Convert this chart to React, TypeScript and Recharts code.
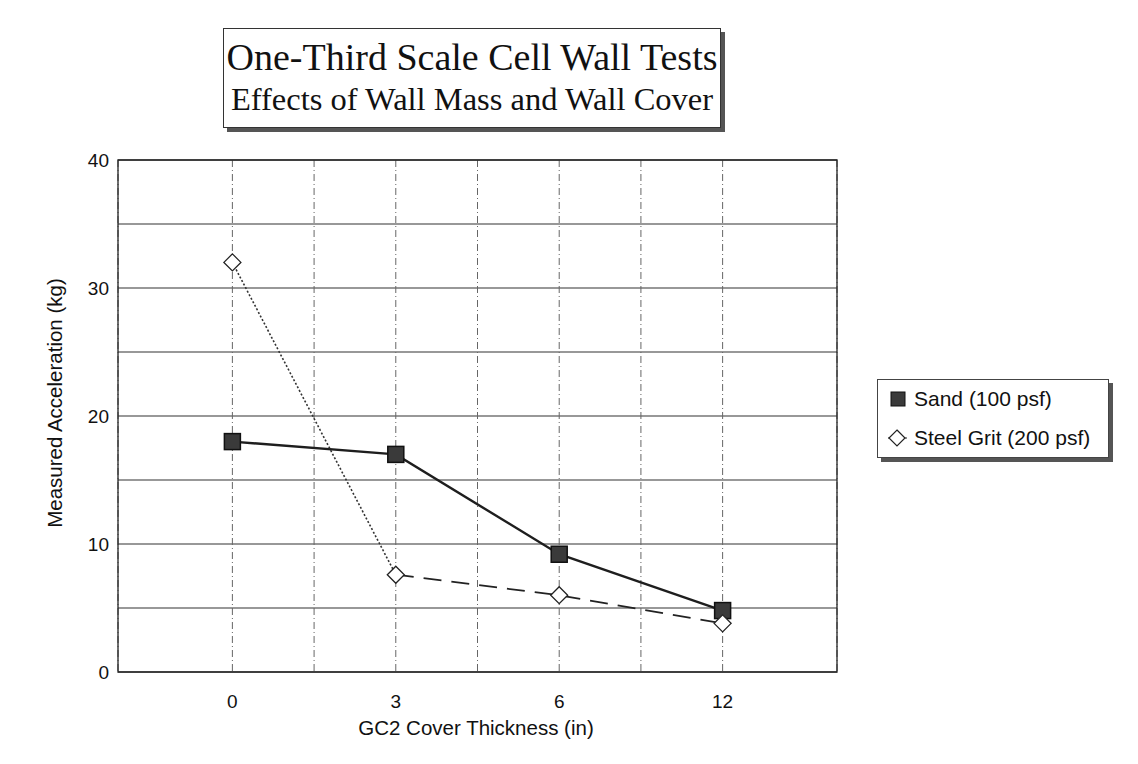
import { LineChart, Line, XAxis, YAxis, CartesianGrid, Legend, ReferenceArea } from 'recharts';

const coverThickness = ['0', '3', '6', '12'];
const sandAccel = [18.0, 17.0, 9.2, 4.8];
const steelGritAccel = [32.0, 7.6, 6.0, 3.8];
const yTicks = [0, 5, 10, 15, 20, 25, 30, 35, 40];
const xTicks = [0, 0.5, 1, 1.5, 2, 2.5, 3];

// steel grit is drawn dotted for the first segment and dashed afterwards
const data = coverThickness.map((c, i) => ({
  idx: i,
  cover: c,
  sand: sandAccel[i],
  steel: steelGritAccel[i],
  steelDotted: i <= 1 ? steelGritAccel[i] : null,
  steelDashed: i >= 1 ? steelGritAccel[i] : null,
}));

const SANS = '"Liberation Sans", Arial, sans-serif';
const SERIF = '"Liberation Serif", "Times New Roman", serif';

function SquareDot(props: any) {
  const { cx, cy, index } = props;
  if (cx == null || cy == null) return null;
  return (
    <rect key={`sq-${index}`} x={cx - 8} y={cy - 8} width={16} height={16} fill="#3a3a3a" stroke="#111" strokeWidth={1.5} />
  );
}

function DiamondDot(props: any) {
  const { cx, cy, index } = props;
  if (cx == null || cy == null) return null;
  const r = 8.5;
  return (
    <polygon
      key={`dm-${index}`}
      points={`${cx},${cy - r} ${cx + r},${cy} ${cx},${cy + r} ${cx - r},${cy}`}
      fill="#fff"
      stroke="#222"
      strokeWidth={1.3}
    />
  );
}

function LegendBox() {
  const row = { display: 'flex', alignItems: 'center', height: 44 } as const;
  return (
    <div
      style={{
        border: '1px solid #444',
        background: '#fff',
        boxShadow: '4px 4px 0 #555',
        padding: '0 6px 0 8px',
        fontFamily: SANS,
        fontSize: 21,
        color: '#111',
        width: 232,
        height: 79,
        boxSizing: 'border-box',
        display: 'flex',
        flexDirection: 'column',
        justifyContent: 'center',
      }}
    >
      <div style={row}>
        <svg width={22} height={22}>
          <rect x={5} y={4} width={14} height={14} fill="#3a3a3a" stroke="#111" />
        </svg>
        <span style={{ marginLeft: 6 }}>Sand (100 psf)</span>
      </div>
      <div style={row}>
        <svg width={22} height={22}>
          <line x1={2} y1={11} x2={21} y2={11} stroke="#222" strokeWidth={1} />
          <polygon points="11,3 19,11 11,19 3,11" fill="#fff" stroke="#222" strokeWidth={1.2} />
        </svg>
        <span style={{ marginLeft: 6 }}>Steel Grit (200 psf)</span>
      </div>
    </div>
  );
}

export default function App() {
  return (
    <div style={{ position: 'relative', width: 1138, height: 764, margin: -8, background: '#fff', overflow: 'hidden' }}>
      <div style={{ position: 'absolute', left: 7, top: 5, right: 0, bottom: 0, borderLeft: '1px solid #555', borderTop: '1px solid #777' }} />
      <div
        style={{
          position: 'absolute',
          left: 223,
          top: 28,
          width: 498,
          height: 100,
          border: '1px solid #333',
          boxShadow: '4px 4px 0 #555',
          background: '#fff',
          fontFamily: SERIF,
          color: '#111',
          textAlign: 'center',
          boxSizing: 'border-box',
          whiteSpace: 'nowrap',
        }}
      >
        <div style={{ fontSize: 38, lineHeight: '44px', marginTop: 6 }}>One-Third Scale Cell Wall Tests</div>
        <div style={{ fontSize: 32.5, lineHeight: '40px' }}>Effects of Wall Mass and Wall Cover</div>
      </div>

      <LineChart width={1138} height={764} data={data} margin={{ top: 160, right: 301, bottom: 52, left: 58 }}>
        <CartesianGrid vertical={false} stroke="#333" strokeWidth={1.2} />
        <CartesianGrid horizontal={false} stroke="#666" strokeDasharray="7 3 1 3" />
        <ReferenceArea x1={-0.7} x2={3.7} y1={0} y2={40} fill="none" stroke="#222" strokeWidth={1.3} ifOverflow="extendDomain" />
        <XAxis
          dataKey="idx"
          type="number"
          domain={[-0.7, 3.7]}
          ticks={xTicks}
          tickFormatter={(v: number) => (Number.isInteger(v) ? coverThickness[v] : '')}
          tickLine={false}
          axisLine={false}
          tickMargin={17}
          height={40}
          tick={{ fill: '#111', fontSize: 19, fontFamily: SANS }}
          allowDecimals
        />
        <YAxis
          type="number"
          domain={[0, 40]}
          ticks={yTicks}
          tickFormatter={(v: number) => (v % 10 === 0 ? String(v) : '')}
          tickLine={false}
          axisLine={false}
          tickMargin={3}
          width={60}
          tick={{ fill: '#111', fontSize: 19, fontFamily: SANS }}
        />
        <Legend
          layout="horizontal"
          verticalAlign="middle"
          align="center"
          content={<LegendBox />}
          wrapperStyle={{ position: 'absolute', left: 877, top: 379, width: 'auto' }}
        />
        <Line dataKey="sand" name="Sand (100 psf)" stroke="#1e1e1e" strokeWidth={2.4} dot={<SquareDot />} activeDot={false} isAnimationActive={false} />
        <Line dataKey="steelDotted" stroke="#333" strokeWidth={1.6} strokeDasharray="2 2" dot={false} activeDot={false} legendType="none" connectNulls={false} isAnimationActive={false} />
        <Line dataKey="steelDashed" stroke="#222" strokeWidth={1.8} strokeDasharray="18 10" dot={false} activeDot={false} legendType="none" connectNulls={false} isAnimationActive={false} />
        <Line dataKey="steel" name="Steel Grit (200 psf)" stroke="none" dot={<DiamondDot />} activeDot={false} isAnimationActive={false} />
      </LineChart>

      <div
        style={{
          position: 'absolute',
          left: 55,
          top: 403,
          transform: 'translate(-50%, -50%) rotate(-90deg)',
          whiteSpace: 'nowrap',
          fontFamily: SANS,
          fontSize: 20.5,
          color: '#111',
        }}
      >
        Measured Acceleration (kg)
      </div>
      <div
        style={{
          position: 'absolute',
          left: 476,
          top: 728,
          transform: 'translate(-50%, -50%)',
          whiteSpace: 'nowrap',
          fontFamily: SANS,
          fontSize: 20.5,
          color: '#111',
        }}
      >
        GC2 Cover Thickness (in)
      </div>
    </div>
  );
}
